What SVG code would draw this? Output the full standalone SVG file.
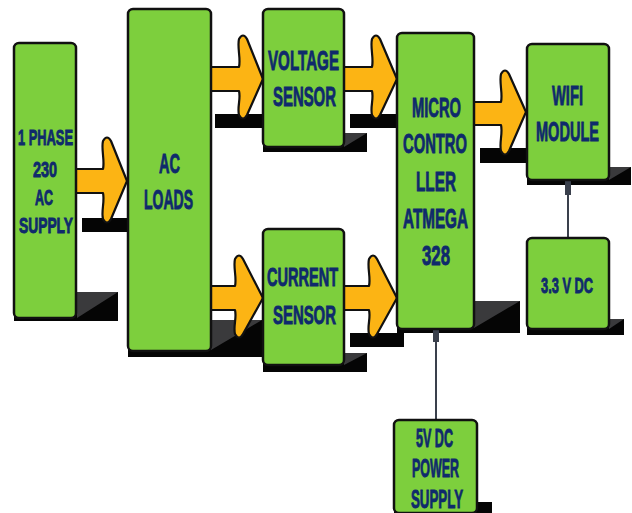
<svg xmlns="http://www.w3.org/2000/svg" width="632" height="513" viewBox="0 0 632 513">
<style>
.box{fill:#7dcf3d;stroke:#111;stroke-width:2.5}
.sh{fill:#050505}
.shl{fill:#3a3a3c}
.arr{fill:#fcb414;stroke:#111;stroke-width:2.2;stroke-linejoin:round}
.t{font-family:"Liberation Sans",Arial,sans-serif;font-weight:bold;fill:#0f2a6c;stroke:#0f2a6c;stroke-width:0.9;text-anchor:middle}
.conn{stroke:#3a404c;stroke-width:2;fill:none}
.cap{fill:#3a404c}
</style>
<rect width="632" height="513" fill="#fff"/>
<g id="shadows">
<rect class="sh" x="14" y="292" width="104" height="29"/><polygon class="shl" points="77,292 118,292 77,318"/>
<rect class="sh" x="128" y="320" width="135" height="37"/><polygon class="shl" points="211,320 262,320 211,350"/>
<rect class="sh" x="263" y="133" width="104" height="19"/><polygon class="shl" points="344,133 367,133 344,147"/>
<rect class="sh" x="263" y="353" width="104" height="19"/><polygon class="shl" points="344,353 367,353 344,365"/>
<rect class="sh" x="397" y="301" width="123" height="32"/><polygon class="shl" points="474,301 520,301 474,328"/>
<rect class="sh" x="527" y="167" width="104" height="18"/><polygon class="shl" points="609,167 631,167 609,180"/>
<rect class="sh" x="527" y="319" width="97" height="16"/><polygon class="shl" points="609,319 624,319 609,329"/>
<rect class="sh" x="394" y="502" width="98" height="11"/>
<rect class="sh" x="82" y="218" width="45" height="14"/>
<rect class="sh" x="215" y="114" width="48" height="14"/>
<rect class="sh" x="350" y="114" width="47" height="14"/>
<rect class="sh" x="350" y="333" width="54" height="14"/>
<rect class="sh" x="480" y="148" width="47" height="15"/>
</g>
<g id="connectors">
<path class="arr" d="M74,169 H103 C105,161 101,149 103,141 Q107,134 111,141 L127,181 L111,219 Q107,226 103,219 C101,211 105,201 103,193 H74 Z"/>
<path class="arr" d="M208,67 H239 C241,59 237,47 239,39 Q243,32 247,39 L263,79 L247,115 Q243,122 239,115 C237,107 241,99 239,91 H208 Z"/>
<path class="arr" d="M341,67 H372 C374,59 370,47 372,39 Q376,32 380,39 L397,79 L380,115 Q376,122 372,115 C370,107 374,99 372,91 H341 Z"/>
<path class="arr" d="M208,286 H235 C237,278 233,267 235,259 Q239,252 243,259 L263,298 L243,334 Q239,341 235,334 C233,326 237,318 235,310 H208 Z"/>
<path class="arr" d="M341,286 H369 C371,278 367,267 369,259 Q373,252 377,259 L397,298 L377,334 Q373,341 369,334 C367,326 371,318 369,310 H341 Z"/>
<path class="arr" d="M471,102 H501 C503,94 499,82 501,74 Q505,67 509,74 L526,112 L509,151 Q505,158 501,151 C499,143 503,133 501,125 H471 Z"/>
<line class="conn" x1="568" y1="180" x2="568" y2="238"/>
<rect class="cap" x="565" y="181" width="6" height="14"/>
<line class="conn" x1="436" y1="329" x2="436" y2="420"/>
<rect class="cap" x="433" y="330" width="6" height="12"/>
</g>
<g id="supply">
<rect class="box" x="14" y="43" width="62" height="275" rx="5"/>
<text class="t" font-size="22" x="45.5" y="145" textLength="55" lengthAdjust="spacingAndGlyphs">1 PHASE</text>
<text class="t" font-size="22" x="45" y="177" textLength="24" lengthAdjust="spacingAndGlyphs">230</text>
<text class="t" font-size="22" x="44" y="205" textLength="18" lengthAdjust="spacingAndGlyphs">AC</text>
<text class="t" font-size="22" x="46" y="233" textLength="54" lengthAdjust="spacingAndGlyphs">SUPPLY</text>
</g>
<g id="acloads">
<rect class="box" x="128" y="9" width="83" height="342" rx="5"/>
<text class="t" font-size="28" x="169.5" y="173" textLength="21" lengthAdjust="spacingAndGlyphs">AC</text>
<text class="t" font-size="28" x="168.5" y="209" textLength="49" lengthAdjust="spacingAndGlyphs">LOADS</text>
</g>
<g id="voltage">
<rect class="box" x="263" y="9" width="81" height="138" rx="5"/>
<text class="t" font-size="28" x="303.5" y="70" textLength="71" lengthAdjust="spacingAndGlyphs">VOLTAGE</text>
<text class="t" font-size="28" x="304.5" y="106" textLength="63" lengthAdjust="spacingAndGlyphs">SENSOR</text>
</g>
<g id="current">
<rect class="box" x="263" y="229" width="81" height="136" rx="5"/>
<text class="t" font-size="26" x="302.5" y="286" textLength="71" lengthAdjust="spacingAndGlyphs">CURRENT</text>
<text class="t" font-size="26" x="304.5" y="324" textLength="63" lengthAdjust="spacingAndGlyphs">SENSOR</text>
</g>
<g id="micro">
<rect class="box" x="397" y="33" width="77" height="296" rx="5"/>
<text class="t" font-size="28" x="436.5" y="117" textLength="49" lengthAdjust="spacingAndGlyphs">MICRO</text>
<text class="t" font-size="28" x="435" y="153" textLength="64" lengthAdjust="spacingAndGlyphs">CONTRO</text>
<text class="t" font-size="28" x="436" y="191" textLength="40" lengthAdjust="spacingAndGlyphs">LLER</text>
<text class="t" font-size="28" x="435.5" y="228" textLength="65" lengthAdjust="spacingAndGlyphs">ATMEGA</text>
<text class="t" font-size="28" x="436" y="265" textLength="28" lengthAdjust="spacingAndGlyphs">328</text>
</g>
<g id="wifi">
<rect class="box" x="527" y="44" width="82" height="136" rx="5"/>
<text class="t" font-size="28" x="567.5" y="105" textLength="31" lengthAdjust="spacingAndGlyphs">WIFI</text>
<text class="t" font-size="28" x="567.5" y="141" textLength="63" lengthAdjust="spacingAndGlyphs">MODULE</text>
</g>
<g id="dc33">
<rect class="box" x="527" y="238" width="82" height="91" rx="5"/>
<text class="t" font-size="22" x="567" y="293" textLength="52" lengthAdjust="spacingAndGlyphs">3.3 V DC</text>
</g>
<g id="dc5">
<rect class="box" x="394" y="420" width="83" height="93" rx="5"/>
<text class="t" font-size="26" x="434.5" y="447" textLength="37" lengthAdjust="spacingAndGlyphs">5V DC</text>
<text class="t" font-size="26" x="435.5" y="477" textLength="47" lengthAdjust="spacingAndGlyphs">POWER</text>
<text class="t" font-size="26" x="437" y="508" textLength="52" lengthAdjust="spacingAndGlyphs">SUPPLY</text>
</g>
</svg>
